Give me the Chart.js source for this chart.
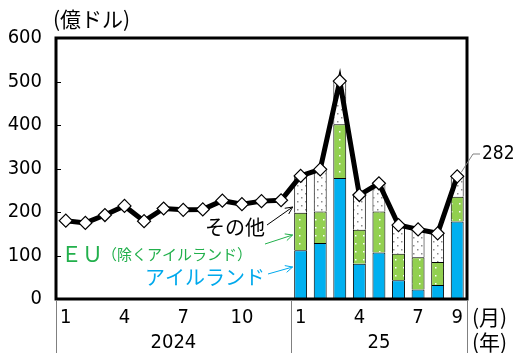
<!DOCTYPE html>
<html>
<head>
<meta charset="utf-8">
<script src="https://cdn.jsdelivr.net/npm/chart.js@4"></script>
<style>
  body { margin: 0; background: #fff; }
  #wrap { width: 514px; height: 353px; }
</style>
</head>
<body>
<div id="wrap"><canvas id="chart" width="514" height="353"></canvas></div>
<script>
// 月（2024年1月〜2025年9月）
const months = ['1','2','3','4','5','6','7','8','9','10','11','12','1','2','3','4','5','6','7','8','9'];
const monthTicks = ['1','','','4','','','7','','','10','','','1','','','4','','','7','','9'];
const years = ['2024', '25'];

// 億ドル
const total = [180, 175, 193, 214, 179, 208, 205, 206, 226, 218, 225, 227, 283, 298, 501, 239, 266, 170, 160, 151, 282];
const ireland = [null, null, null, null, null, null, null, null, null, null, null, null, 112, 129, 278, 81, 107, 43, 22, 32, 178];
const euExIreland = [null, null, null, null, null, null, null, null, null, null, null, null, 86, 72, 124, 78, 94, 61, 74, 53, 57];
const others = [null, null, null, null, null, null, null, null, null, null, null, null, 85, 97, 99, 80, 65, 66, 64, 66, 47];

const NARROW = '"Liberation Sans Narrow", "DejaVu Sans Condensed", sans-serif';
const JP = '"Noto Sans CJK JP", sans-serif';

function dotPattern(bg, dot, pts) {
    const c = document.createElement('canvas');
    c.width = 8; c.height = 8;
    const g = c.getContext('2d');
    g.fillStyle = bg;
    g.fillRect(0, 0, 8, 8);
    g.fillStyle = dot;
    pts.forEach(p => g.fillRect(p[0], p[1], 1.5, 1.5));
    return g.createPattern(c, 'repeat');
}

const greenDots = dotPattern('#92d050', '#ffffff', [[3, 3]]);
const whiteDots = dotPattern('#ffffff', '#8c8c8c', [[1, 1], [5, 5]]);

function arrow(ctx, x1, y1, x2, y2, color) {
    ctx.save();
    ctx.strokeStyle = color;
    ctx.lineWidth = 1;
    ctx.beginPath();
    ctx.moveTo(x1, y1);
    ctx.lineTo(x2, y2);
    const a = Math.atan2(y2 - y1, x2 - x1);
    ctx.moveTo(x2 - 8 * Math.cos(a - 0.45), y2 - 8 * Math.sin(a - 0.45));
    ctx.lineTo(x2, y2);
    ctx.lineTo(x2 - 8 * Math.cos(a + 0.45), y2 - 8 * Math.sin(a + 0.45));
    ctx.stroke();
    ctx.restore();
}

const decor = {
    id: 'decor',
    afterDraw(chart) {
        const ctx = chart.ctx;
        const area = chart.chartArea;
        const x = chart.scales.x;
        const y = chart.scales.y;
        ctx.save();

        // frame
        ctx.strokeStyle = '#000';
        ctx.lineWidth = 3;
        ctx.strokeRect(area.left, area.top, area.right - area.left, area.bottom - area.top);

        // inner y tick marks
        ctx.lineWidth = 1;
        for (let v = 100; v < 600; v += 100) {
            const py = Math.round(y.getPixelForValue(v)) + 0.5;
            ctx.beginPath();
            ctx.moveTo(area.left, py);
            ctx.lineTo(area.left + 5, py);
            ctx.stroke();
        }

        // dividers below axis
        const step = x.getPixelForValue(1) - x.getPixelForValue(0);
        const split = x.getPixelForValue(12) - step / 2;
        ctx.strokeStyle = '#808080';
        [area.left, split, area.right].forEach(px => {
            ctx.beginPath();
            ctx.moveTo(Math.round(px) + 0.5, area.bottom + 1);
            ctx.lineTo(Math.round(px) + 0.5, 353);
            ctx.stroke();
        });

        // month / year labels
        ctx.fillStyle = '#000';
        ctx.font = '20px ' + NARROW;
        ctx.textAlign = 'center';
        ctx.textBaseline = 'middle';
        monthTicks.forEach((t, i) => {
            if (t) ctx.fillText(t, x.getPixelForValue(i), 318);
        });
        ctx.fillText(years[0], (area.left + split) / 2, 343);
        ctx.fillText(years[1], (split + area.right) / 2, 343);

        ctx.font = '21px ' + JP;
        ctx.textAlign = 'left';
        ctx.fillText('(月)', 472, 317);
        ctx.fillText('(年)', 472, 342);
        ctx.fillText('(億ドル)', 53, 19);

        // 282 label
        const lx = x.getPixelForValue(20);
        const ly = y.getPixelForValue(total[20]);
        ctx.strokeStyle = '#808080';
        ctx.beginPath();
        ctx.moveTo(lx + 4, ly - 4);
        ctx.lineTo(473, 154);
        ctx.lineTo(480, 154);
        ctx.stroke();
        ctx.font = '19px ' + NARROW;
        ctx.fillText(String(total[20]), 482, 154);

        // series annotations
        const bx = x.getPixelForValue(12) - 8;
        ctx.textAlign = 'left';
        ctx.font = '20px ' + JP;
        ctx.fillStyle = '#000';
        ctx.fillText('その他', 205, 227);
        arrow(ctx, 267, 225, bx, 207, '#000');

        ctx.fillStyle = '#22b04c';
        ctx.font = '21px ' + JP;
        ctx.fillText('ＥＵ', 61, 254);
        ctx.font = '15px ' + JP;
        ctx.fillText('（除くアイルランド）', 102, 254);
        arrow(ctx, 265, 244, bx, 235, '#22b04c');

        ctx.fillStyle = '#00a9ec';
        ctx.font = '20px ' + JP;
        ctx.fillText('アイルランド', 145, 277);
        arrow(ctx, 268, 274, bx, 267, '#00a9ec');

        ctx.restore();
    }
};

const barBase = {
    type: 'bar',
    stack: 'parts',
    borderColor: '#000',
    borderWidth: 1,
    barPercentage: 0.66,
    categoryPercentage: 1,
    order: 2,
};

new Chart(document.getElementById('chart'), {
    data: {
        labels: months,
        datasets: [
            Object.assign({}, barBase, { label: 'アイルランド', data: ireland, backgroundColor: '#00b0f0' }),
            Object.assign({}, barBase, { label: 'EU（除くアイルランド）', data: euExIreland, backgroundColor: greenDots }),
            Object.assign({}, barBase, { label: 'その他', data: others, backgroundColor: whiteDots }),
            {
                type: 'line',
                label: '合計',
                stack: 'total',
                data: total,
                borderColor: '#000',
                borderWidth: 5,
                pointStyle: 'rectRot',
                pointRadius: 6.5,
                pointBackgroundColor: '#fff',
                pointBorderColor: '#000',
                pointBorderWidth: 1.2,
                order: 0,
            },
        ],
    },
    options: {
        responsive: false,
        animation: false,
        layout: {
            padding: { top: 38, right: 47, bottom: 54, left: 0 }
        },
        plugins: {
            legend: { display: false },
            tooltip: { enabled: false },
        },
        scales: {
            x: {
                display: false,
                stacked: true,
            },
            y: {
                stacked: true,
                min: 0,
                max: 600,
                afterFit: s => { s.width = 56; },
                border: { display: false },
                grid: { display: false },
                ticks: {
                    stepSize: 100,
                    color: '#000',
                    padding: 6,
                    font: { size: 20, family: NARROW },
                },
            },
        },
    },
    plugins: [decor],
});
</script>
</body>
</html>
